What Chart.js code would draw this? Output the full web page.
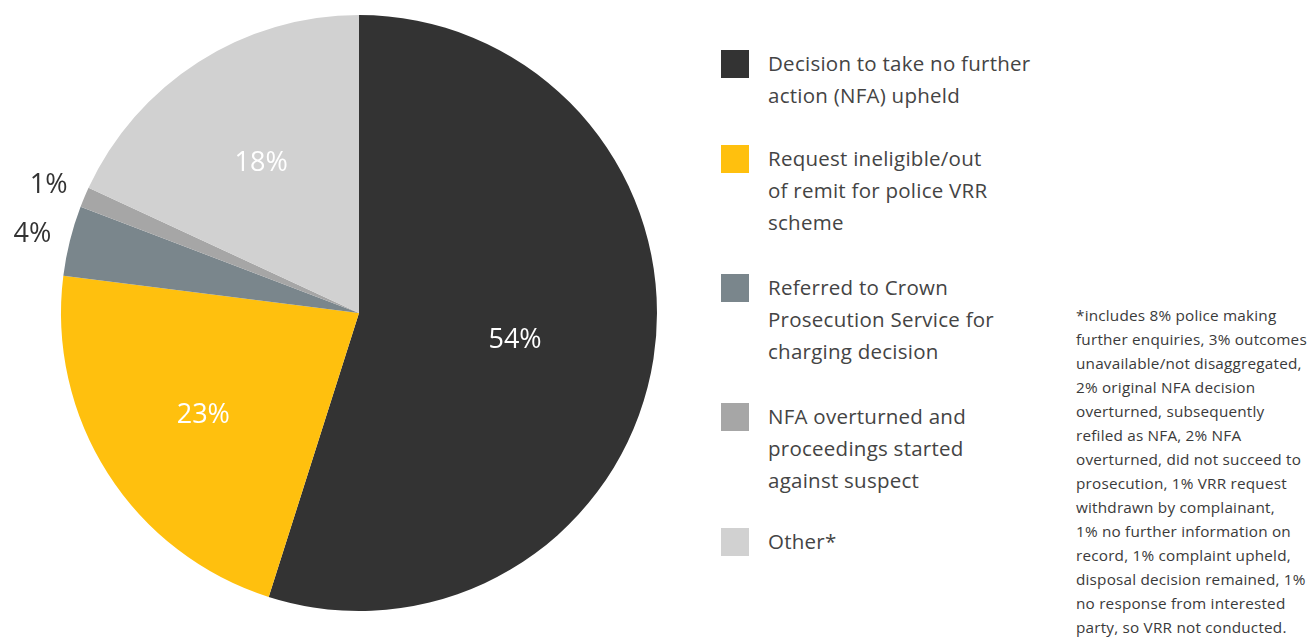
<!DOCTYPE html>
<html>
<head>
<meta charset="utf-8">
<script src="https://cdn.jsdelivr.net/npm/chart.js@4.4.0/dist/chart.umd.min.js"></script>
<style>
  body { margin: 0; background: #fff; width: 1313px; height: 638px; overflow: hidden; position: relative; font-family: "Open Sans", "Noto Sans", sans-serif; }
  #pie { position: absolute; left: 0; top: 0; }
  .item { position: absolute; left: 721px; }
  .sw { position: absolute; left: 0; top: 0; width: 28px; height: 28px; }
  .txt { position: absolute; left: 47px; top: -3px; font-size: 20.5px; letter-spacing: 0.25px; line-height: 32px; color: #444; white-space: nowrap; }
  #note { position: absolute; left: 1076px; top: 303px; font-size: 15.3px; letter-spacing: 0.2px; line-height: 24px; color: #3a3a3a; white-space: nowrap; }
</style>
</head>
<body>
<canvas id="pie" width="720" height="638"></canvas>
<div id="legend"></div>
<div id="note">*includes 8% police making<br>further enquiries, 3% outcomes<br>unavailable/not disaggregated,<br>2% original NFA decision<br>overturned, subsequently<br>refiled as NFA, 2% NFA<br>overturned, did not succeed to<br>prosecution, 1% VRR request<br>withdrawn by complainant,<br>1% no further information on<br>record, 1% complaint upheld,<br>disposal decision remained, 1%<br>no response from interested<br>party, so VRR not conducted.</div>
<script>
// outcome categories (legend text, line-broken as in the original)
const categories = [
  ["Decision to take no further", "action (NFA) upheld"],
  ["Request ineligible/out", "of remit for police VRR", "scheme"],
  ["Referred to Crown", "Prosecution Service for", "charging decision"],
  ["NFA overturned and", "proceedings started", "against suspect"],
  ["Other*"]
];
// slice sizes as measured from the drawing, and the printed labels
const shares = [54.9, 22.1, 3.8, 1.1, 18.1];
const shareLabels = ["54%", "23%", "4%", "1%", "18%"];

const colors = ["#333333", "#ffc00e", "#7a868c", "#a6a6a6", "#d1d1d1"];
const labelRadius = [0.53, 0.62, 1.13, 1.13, 0.61];
const labelColor = ["#fff", "#fff", "#333", "#333", "#fff"];
const legendTops = [50, 145, 274, 403, 528];

// legend
const legend = document.getElementById("legend");
categories.forEach((lines, i) => {
  const div = document.createElement("div");
  div.className = "item";
  div.style.top = legendTops[i] + "px";
  div.innerHTML = `<div class="sw" style="background:${colors[i]}"></div><div class="txt">${lines.join("<br>")}</div>`;
  legend.appendChild(div);
});

const sliceLabels = {
  id: "sliceLabels",
  afterDatasetsDraw(chart) {
    const ctx = chart.ctx;
    const arcs = chart.getDatasetMeta(0).data;
    ctx.save();
    ctx.font = "27px 'Open Sans', sans-serif";
    ctx.textAlign = "center";
    ctx.textBaseline = "middle";
    arcs.forEach((arc, i) => {
      const mid = (arc.startAngle + arc.endAngle) / 2;
      const r = arc.outerRadius * labelRadius[i];
      ctx.fillStyle = labelColor[i];
      ctx.fillText(shareLabels[i], arc.x + Math.cos(mid) * r, arc.y + Math.sin(mid) * r + 3);
    });
    ctx.restore();
  }
};

new Chart(document.getElementById("pie").getContext("2d"), {
  type: "pie",
  data: {
    labels: categories.map(c => c.join(" ")),
    datasets: [{
      data: shares,
      backgroundColor: colors,
      borderWidth: 0
    }]
  },
  options: {
    responsive: false,
    animation: false,
    layout: { padding: { left: 61, right: 63, top: 15, bottom: 27 } },
    plugins: {
      legend: { display: false },
      tooltip: { enabled: false }
    }
  },
  plugins: [sliceLabels]
});
</script>
</body>
</html>
